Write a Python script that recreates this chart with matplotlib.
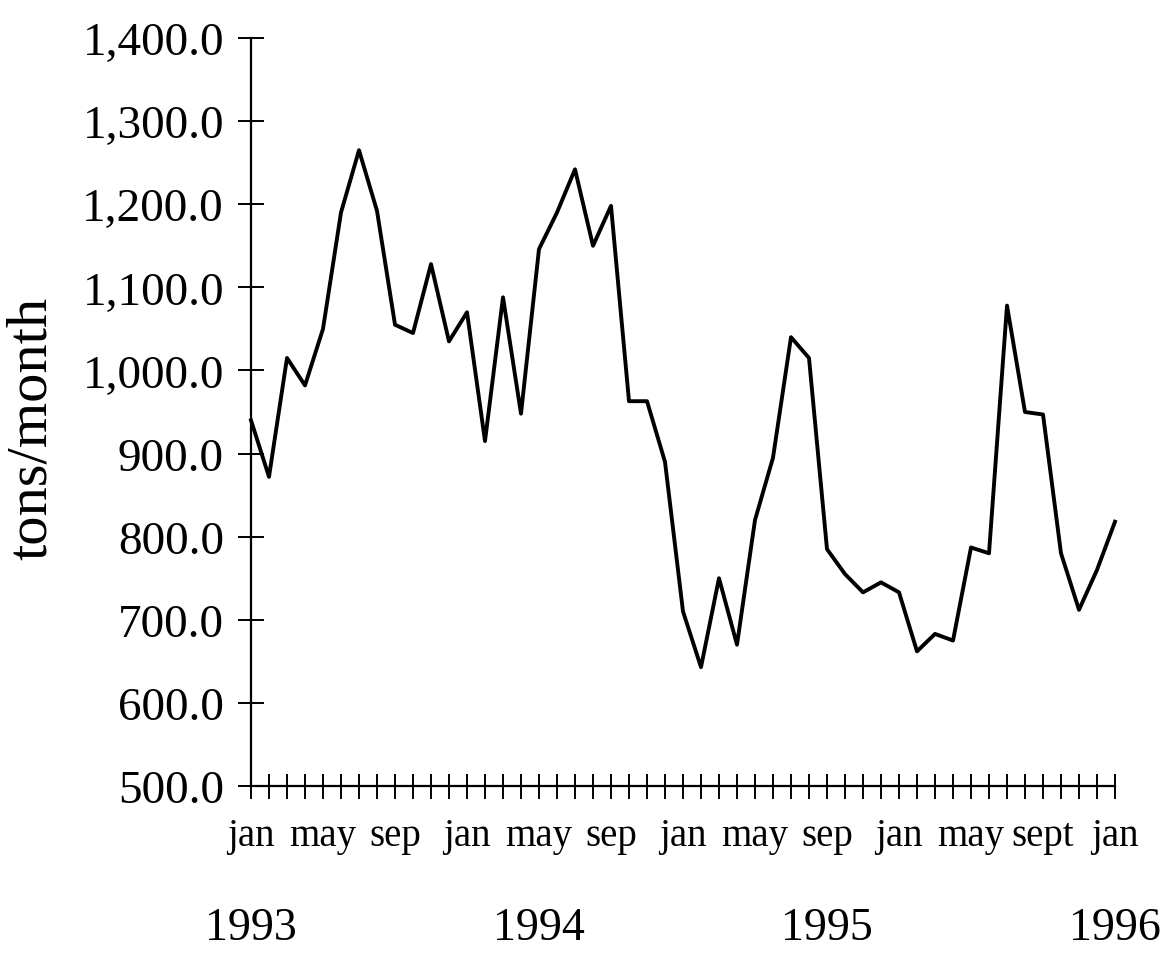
import matplotlib.pyplot as plt
import numpy as np

# monthly tonnage, jan 1993 .. jan 1997 (as drawn on the source chart)
tons = [940, 872, 1015, 982, 1050, 1190, 1265, 1192, 1055, 1045,
        1128, 1035, 1070, 915, 1088, 948, 1146, 1190, 1242, 1150,
        1198, 963, 963, 890, 710, 643, 750, 670, 820, 895,
        1040, 1015, 785, 755, 733, 745, 733, 662, 683, 675,
        787, 780, 1078, 950, 947, 780, 712, 760, 818]
month_names = ['jan', 'may', 'sep', 'jan', 'may', 'sep', 'jan',
               'may', 'sep', 'jan', 'may', 'sept', 'jan']
years = ['1993', '1994', '1995', '1996']
year_pos = [0, 16, 32, 48]

plt.rcParams['font.family'] = ['Liberation Serif', 'DejaVu Serif']

fig = plt.figure(figsize=(11.61, 9.54), dpi=100)
ax = fig.add_axes([251 / 1161, 1 - 787 / 954, 864 / 1161, 748 / 954])

x = np.arange(len(tons))
ax.plot(x, tons, color='black', lw=2.8, clip_on=False)

ax.set_xlim(0, len(tons) - 1)
ax.set_ylim(500, 1400)

for s in ['top', 'right']:
    ax.spines[s].set_visible(False)
for s in ['left', 'bottom']:
    ax.spines[s].set_linewidth(1.6)

yt = np.arange(500, 1401, 100)
ax.set_yticks(yt)
ax.set_yticklabels(['{:,.1f}'.format(v) for v in yt], fontsize=34)
ax.tick_params(axis='y', direction='inout', length=19, width=1.4, pad=10)

xl = []
for i in x:
    xl.append(month_names[i // 4] if i % 4 == 0 else '')
ax.set_xticks(x)
ax.set_xticklabels(xl, fontsize=28)
ax.tick_params(axis='x', direction='inout', length=18, width=1.4, pad=13)

for p, yr in zip(year_pos, years):
    ax.text(p, -0.19, yr, transform=ax.get_xaxis_transform(),
            ha='center', va='center', fontsize=33)

fig.text(32 / 1161, 1 - 428 / 954, 'tons/month', rotation=90,
         ha='center', va='center', fontsize=42)

fig.savefig('out.png', dpi=100)
